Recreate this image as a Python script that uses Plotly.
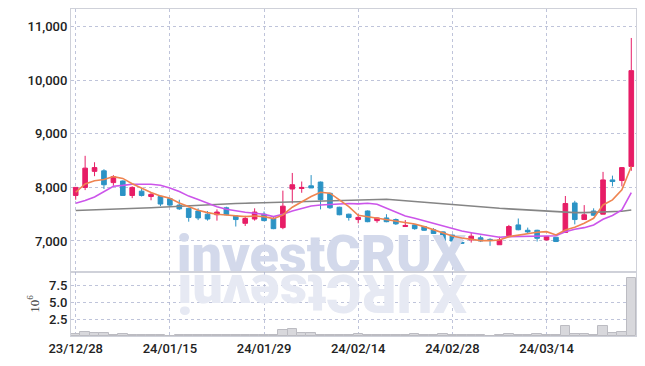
import plotly.graph_objects as go

dates = ["23/12/28", "24/01/02", "24/01/03", "24/01/04", "24/01/05", "24/01/08", "24/01/09", "24/01/10",
         "24/01/11", "24/01/12", "24/01/15", "24/01/16", "24/01/17", "24/01/18", "24/01/19", "24/01/22",
         "24/01/23", "24/01/24", "24/01/25", "24/01/26", "24/01/29", "24/01/30", "24/01/31", "24/02/01",
         "24/02/02", "24/02/05", "24/02/06", "24/02/07", "24/02/08", "24/02/13", "24/02/14", "24/02/15",
         "24/02/16", "24/02/19", "24/02/20", "24/02/21", "24/02/22", "24/02/23", "24/02/26", "24/02/27",
         "24/02/28", "24/02/29", "24/03/04", "24/03/05", "24/03/06", "24/03/07", "24/03/08", "24/03/11",
         "24/03/12", "24/03/13", "24/03/14", "24/03/15", "24/03/18", "24/03/19", "24/03/20", "24/03/21",
         "24/03/22", "24/03/25", "24/03/26", "24/03/27"]

open_ = [7850, 8000, 8300, 8310, 8090, 8120, 7850, 7930, 7830, 7830,
         7790, 7670, 7610, 7560, 7500, 7490, 7620, 7470, 7330, 7410,
         7500, 7420, 7250, 7970, 7980, 8030, 8100, 7890, 7630, 7500,
         7400, 7560, 7380, 7430, 7400, 7270, 7300, 7270, 7210, 7170,
         7110, 6970, 7020, 7060, 7030, 6930, 7100, 7300, 7200, 7200,
         7020, 7070, 7160, 7710, 7400, 7560, 7500, 8140, 8130, 8390]
high = [8000, 8590, 8470, 8340, 8230, 8130, 8020, 7990, 7910, 7840,
        7800, 7770, 7620, 7610, 7560, 7590, 7640, 7480, 7470, 7610,
        7550, 7450, 7940, 8270, 8110, 8230, 8110, 7900, 7640, 7510,
        7500, 7570, 7440, 7500, 7420, 7390, 7310, 7280, 7240, 7180,
        7120, 7090, 7150, 7100, 7050, 7080, 7300, 7420, 7250, 7210,
        7090, 7070, 7840, 7750, 7670, 7610, 8290, 8220, 8380, 10790]
low = [7770, 7950, 8210, 7970, 8030, 7850, 7800, 7830, 7760, 7650,
       7640, 7580, 7360, 7390, 7380, 7380, 7480, 7270, 7280, 7380,
       7370, 7220, 7220, 7700, 7900, 7990, 7590, 7600, 7480, 7380,
       7330, 7350, 7340, 7350, 7300, 7270, 7210, 7190, 7130, 6990,
       6940, 6950, 6970, 6980, 6910, 6930, 7070, 7200, 7140, 6990,
       7010, 6980, 7150, 7310, 7400, 7470, 7500, 8020, 8020, 8310]
close = [8000, 8360, 8370, 8050, 8200, 7850, 8000, 7850, 7870, 7690,
         7670, 7600, 7440, 7430, 7410, 7540, 7490, 7400, 7420, 7540,
         7380, 7230, 7650, 8050, 8000, 7990, 7770, 7620, 7490, 7440,
         7440, 7360, 7430, 7360, 7320, 7290, 7230, 7200, 7140, 7000,
         7000, 6960, 7090, 7000, 7010, 7020, 7270, 7210, 7170, 7050,
         7080, 6990, 7700, 7400, 7490, 7480, 8140, 8110, 8370, 10180]

ma5 = [7910, 8065, 8125, 8148, 8202, 8168, 8070, 7990, 7905, 7842,
       7798, 7710, 7635, 7573, 7529, 7499, 7486, 7467, 7455, 7467,
       7455, 7417, 7486, 7630, 7735, 7829, 7910, 7892, 7767, 7640,
       7480, 7455, 7424, 7393, 7374, 7342, 7318, 7268, 7206, 7144,
       7093, 7056, 7031, 7006, 7006, 7019, 7081, 7112, 7143, 7162,
       7174, 7112, 7206, 7256, 7331, 7424, 7673, 7767, 7954, 8390]
ma20 = [7705, 7755, 7820, 7922, 8022, 8038, 8060, 8060, 8058, 8040,
        7990, 7922, 7838, 7773, 7710, 7641, 7593, 7561, 7537, 7518,
        7499, 7455, 7499, 7561, 7611, 7654, 7673, 7686, 7692, 7700,
        7692, 7705, 7686, 7611, 7529, 7467, 7424, 7374, 7331, 7280,
        7230, 7187, 7155, 7125, 7093, 7069, 7081, 7081, 7081, 7081,
        7093, 7099, 7174, 7218, 7249, 7299, 7405, 7475, 7580, 7905]
ma60 = [7570, 7575, 7580, 7590, 7600, 7605, 7610, 7615, 7620, 7630,
        7640, 7650, 7660, 7670, 7680, 7690, 7695, 7700, 7705, 7710,
        7715, 7720, 7725, 7735, 7745, 7750, 7755, 7760, 7765, 7770,
        7775, 7780, 7785, 7780, 7765, 7750, 7735, 7720, 7710, 7700,
        7685, 7670, 7655, 7640, 7625, 7610, 7600, 7590, 7580, 7570,
        7560, 7545, 7530, 7530, 7530, 7535, 7540, 7545, 7555, 7580]

volume_m = [0.3, 0.55, 0.4, 0.4, 0.12, 0.3, 0.12, 0.1, 0.08, 0.08,
            0.06, 0.12, 0.1, 0.1, 0.08, 0.1, 0.08, 0.1, 0.08, 0.1,
            0.08, 0.1, 0.9, 1.05, 0.45, 0.45, 0.15, 0.12, 0.1, 0.1,
            0.3, 0.12, 0.1, 0.1, 0.08, 0.1, 0.3, 0.12, 0.08, 0.3,
            0.1, 0.1, 0.08, 0.08, 0.06, 0.1, 0.3, 0.1, 0.08, 0.3,
            0.1, 0.12, 1.5, 0.35, 0.35, 0.12, 1.5, 0.47, 0.6, 8.6]

tick_idx = [0, 10, 20, 30, 40, 50]
tick_labels = [dates[i] for i in tick_idx]
price_ticks = [7000, 8000, 9000, 10000, 11000]
vol_ticks = [2.5, 5.0, 7.5]
vol_tick_labels = ["2.5", "5.0", "7.5"]
watermark = "investCRUX"

x = list(range(len(dates)))

UP = "#e71d66"
DOWN = "#2b93c5"
GRID = "rgba(170,176,205,0.75)"
FRAME = "#cfd1d9"
TICKFONT = dict(family="Roboto", size=13, color="#222222", weight=500)
WM_FONT = "Roboto"

fig = go.Figure()

# watermark (drawn first so the candles sit on top)
fig.add_trace(go.Scatter(
    x=[26.1], y=[6650], mode="text", text=[watermark], textposition="middle center",
    textfont=dict(family=WM_FONT, size=54, color="#d3d9eb", weight=900),
    hoverinfo="skip", showlegend=False, xaxis="x", yaxis="y"))

fig.add_trace(go.Candlestick(
    x=x, open=open_, high=high, low=low, close=close,
    increasing=dict(line=dict(color=UP, width=1), fillcolor=UP),
    decreasing=dict(line=dict(color=DOWN, width=1), fillcolor=DOWN),
    whiskerwidth=0, showlegend=False, xaxis="x", yaxis="y"))

fig.add_trace(go.Scatter(x=x, y=ma60, mode="lines", line=dict(color="#858585", width=1.6),
                         showlegend=False, xaxis="x", yaxis="y"))
fig.add_trace(go.Scatter(x=x, y=ma20, mode="lines", line=dict(color="#cc55ea", width=1.6),
                         showlegend=False, xaxis="x", yaxis="y"))
fig.add_trace(go.Scatter(x=x, y=ma5, mode="lines", line=dict(color="#ef8450", width=1.6),
                         showlegend=False, xaxis="x", yaxis="y"))

fig.add_trace(go.Bar(x=x, y=volume_m, marker=dict(color="#d8d8dc", line=dict(color="#bcbcc2", width=1)),
                     showlegend=False, xaxis="x2", yaxis="y2"))

common_x = dict(range=[-0.5, 59.5], tickvals=tick_idx, ticktext=tick_labels, showgrid=True,
                gridcolor=GRID, griddash="dot", gridwidth=1, showline=True, linecolor=FRAME,
                linewidth=1, mirror=True, zeroline=False, ticks="", fixedrange=True)

vol_frac = 64 / 327

fig.update_layout(
    width=645, height=366,
    margin=dict(l=71, r=9, t=9, b=30),
    paper_bgcolor="white", plot_bgcolor="white",
    bargap=0, boxgap=0.3,
    xaxis=dict(common_x, anchor="y", showticklabels=False, rangeslider=dict(visible=False)),
    xaxis2=dict(common_x, anchor="y2", matches="x", showticklabels=True, tickfont=TICKFONT),
    yaxis=dict(domain=[vol_frac, 1], range=[6421, 11331], tickvals=price_ticks, tickformat=",",
               showgrid=True, gridcolor=GRID, griddash="dot", showline=True, linecolor=FRAME,
               mirror=True, zeroline=False, ticks="", tickfont=TICKFONT, fixedrange=True),
    yaxis2=dict(domain=[0, vol_frac], range=[0, 9.45], tickvals=vol_ticks, ticktext=vol_tick_labels,
                showgrid=True, gridcolor=GRID, griddash="dot", showline=True, linecolor=FRAME,
                mirror=True, zeroline=False, ticks="", tickfont=TICKFONT, fixedrange=True,
                title=dict(text="10<sup>6</sup>", font=dict(family="Liberation Serif", size=13, color="#333333"),
                           standoff=6)),
    annotations=[dict(
        x=26.1, y=6.3, xref="x2", yref="y2", text=watermark[::-1], textangle=180, showarrow=False,
        font=dict(family=WM_FONT, size=54, color="#e6e9f3", weight=900),
        xanchor="center", yanchor="middle")],
)

fig.write_html("out.html", config={"displayModeBar": False},
               post_script="document.body.style.margin='0';document.body.style.overflow='hidden';")
